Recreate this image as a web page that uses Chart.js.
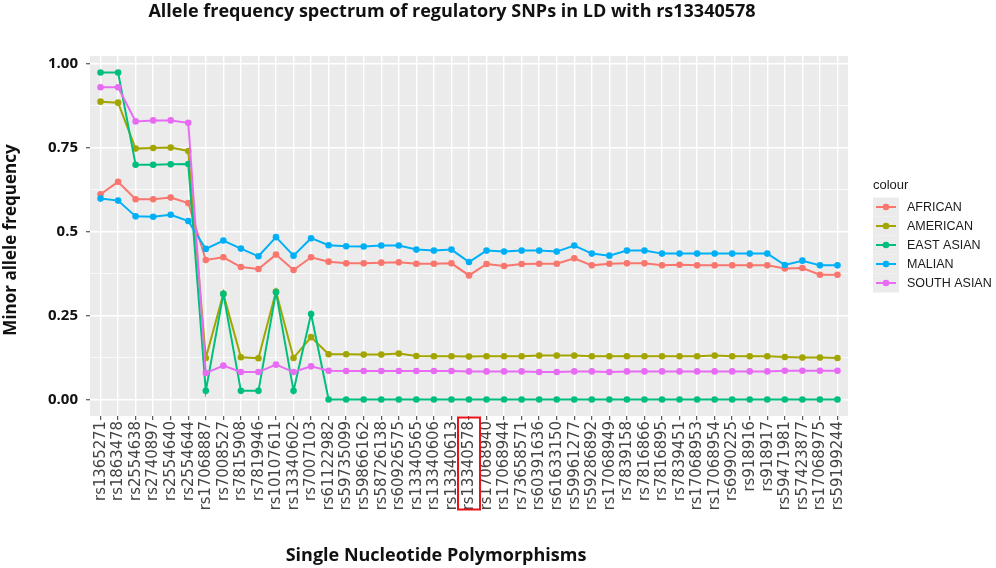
<!DOCTYPE html>
<html><head><meta charset="utf-8">
<script src="https://cdn.jsdelivr.net/npm/chart.js@4.4.1/dist/chart.umd.min.js"></script>
<style>html,body{margin:0;padding:0;background:#fff;} #wrap{width:996px;height:568px;position:relative;}</style>
</head><body><div id="wrap"><canvas id="c" width="996" height="568"></canvas></div>
<script>
// ---------- DATA ----------
const snps = ['rs1365271','rs1863478','rs2554638','rs2740897','rs2554640','rs2554644','rs17068887','rs7008527','rs7815908','rs7819946','rs10107611','rs13340602','rs7007103','rs61122982','rs59735099','rs59866162','rs58726138','rs60926575','rs13340565','rs13340606','rs13340613','rs13340578','rs17068940','rs17068944','rs73658571','rs60391636','rs61633150','rs59961277','rs59286892','rs17068949','rs7839158','rs7816866','rs7816895','rs7839451','rs17068953','rs17068954','rs6990225','rs918916','rs918917','rs59471981','rs57423877','rs17068975','rs59199244'];
const highlightSNP = 'rs13340578';

const african    = [0.612,0.649,0.597,0.597,0.602,0.586,0.416,0.424,0.395,0.389,0.432,0.386,0.424,0.411,0.406,0.406,0.408,0.409,0.405,0.405,0.406,0.370,0.404,0.398,0.404,0.405,0.405,0.421,0.400,0.405,0.406,0.406,0.400,0.402,0.400,0.400,0.400,0.400,0.400,0.391,0.392,0.372,0.372];
const american   = [0.888,0.885,0.748,0.750,0.751,0.741,0.124,0.315,0.126,0.123,0.322,0.124,0.186,0.135,0.135,0.134,0.134,0.137,0.130,0.129,0.129,0.128,0.129,0.129,0.129,0.131,0.131,0.131,0.129,0.129,0.129,0.129,0.129,0.129,0.129,0.131,0.129,0.129,0.129,0.127,0.125,0.125,0.124];
const eastAsian  = [0.975,0.975,0.700,0.700,0.701,0.702,0.026,0.315,0.026,0.026,0.320,0.026,0.255,0,0,0,0,0,0,0,0,0,0,0,0,0,0,0,0,0,0,0,0,0,0,0,0,0,0,0,0,0,0];
const malian     = [0.599,0.593,0.546,0.545,0.551,0.532,0.449,0.474,0.450,0.427,0.484,0.429,0.481,0.460,0.457,0.456,0.459,0.459,0.447,0.444,0.447,0.410,0.444,0.441,0.444,0.444,0.441,0.459,0.435,0.429,0.444,0.444,0.435,0.435,0.435,0.435,0.435,0.435,0.435,0.401,0.414,0.400,0.400];
const southAsian = [0.931,0.931,0.829,0.832,0.832,0.825,0.079,0.101,0.082,0.082,0.104,0.082,0.099,0.086,0.085,0.085,0.085,0.085,0.085,0.085,0.085,0.084,0.084,0.084,0.084,0.082,0.082,0.084,0.084,0.082,0.084,0.084,0.084,0.084,0.084,0.084,0.084,0.084,0.084,0.086,0.086,0.086,0.086];

const seriesNames  = ['AFRICAN','AMERICAN','EAST ASIAN','MALIAN','SOUTH ASIAN'];
const seriesValues = [african, american, eastAsian, malian, southAsian];
const seriesColors = ['#F8766D','#A3A500','#00BF7D','#00B0F6','#E76BF3'];

const yMajorTicks  = [0, 0.25, 0.5, 0.75, 1];
const yTickLabels  = ['0.00', '0.25', '0.5', '0.75', '1.00'];
const yMinorTicks  = [0.125, 0.375, 0.625, 0.875];

const chartTitle  = 'Allele frequency spectrum of regulatory SNPs in LD with rs13340578';
const xAxisTitle  = 'Single Nucleotide Polymorphisms';
const yAxisTitle  = 'Minor allele frequency';
const legendTitle = 'colour';

// ---------- CHART ----------
const BOLD = '"Open Sans", Lato, sans-serif';
const isMajor = v => yMajorTicks.some(m => Math.abs(m - v) < 1e-9);

const panelBg = {
  id: 'panelBg',
  beforeDraw(chart) {
    const {ctx, chartArea: a} = chart;
    ctx.save();
    ctx.fillStyle = '#EBEBEB';
    ctx.fillRect(a.left, a.top, a.right - a.left, a.bottom - a.top);
    ctx.restore();
  }
};

const decorations = {
  id: 'decorations',
  afterDraw(chart) {
    const {ctx, chartArea: a} = chart;
    const xs = chart.scales.x;
    ctx.save();
    ctx.fillStyle = '#111';
    ctx.textAlign = 'center';
    ctx.textBaseline = 'middle';
    ctx.font = 'bold 18px ' + BOLD;
    ctx.fillText(chartTitle, 452, 12);
    ctx.fillText(xAxisTitle, 436, 556);
    ctx.font = 'bold 17px ' + BOLD;
    ctx.save();
    ctx.translate(11, 240);
    ctx.rotate(-Math.PI / 2);
    ctx.fillText(yAxisTitle, 0, 0);
    ctx.restore();

    // legend
    const lx = a.right + 25, ly = 185;
    ctx.textAlign = 'left';
    ctx.fillStyle = '#1a1a1a';
    ctx.font = '13px "Liberation Sans", Arial, sans-serif';
    ctx.fillText(legendTitle, lx, ly);
    ctx.font = '12.5px "Liberation Sans", Arial, sans-serif';
    chart.data.datasets.forEach((ds, i) => {
      const yc = ly + 22 + i * 19;
      ctx.fillStyle = '#EBEBEB';
      ctx.fillRect(lx, yc - 9.5, 26, 19);
      ctx.strokeStyle = ds.borderColor;
      ctx.lineWidth = 2;
      ctx.beginPath(); ctx.moveTo(lx + 3, yc); ctx.lineTo(lx + 23, yc); ctx.stroke();
      ctx.fillStyle = ds.borderColor;
      ctx.beginPath(); ctx.arc(lx + 13, yc, 3.3, 0, Math.PI * 2); ctx.fill();
      ctx.fillStyle = '#1a1a1a';
      ctx.fillText(ds.label, lx + 34, yc + 0.5);
    });

    // highlight box around the lead SNP label
    const hx = xs.getPixelForValue(snps.indexOf(highlightSNP));
    ctx.strokeStyle = '#E8141B';
    ctx.lineWidth = 2;
    ctx.strokeRect(hx - 11, a.bottom + 1.5, 22, 92);
    ctx.restore();
  }
};

new Chart(document.getElementById('c'), {
  type: 'line',
  data: {
    datasets: seriesNames.map((name, i) => ({
      label: name,
      data: seriesValues[i].map((v, j) => ({x: j, y: v})),
      borderColor: seriesColors[i],
      backgroundColor: seriesColors[i],
      pointBackgroundColor: seriesColors[i],
      borderWidth: 2,
      pointRadius: 3.3,
      pointBorderWidth: 0,
      pointHoverRadius: 3.3,
      tension: 0,
      fill: false,
      order: seriesNames.length - i
    }))
  },
  options: {
    responsive: false,
    animation: false,
    devicePixelRatio: 1,
    events: [],
    layout: {padding: {left: 0, top: 56, right: 148, bottom: 0}},
    plugins: {legend: {display: false}, title: {display: false}, tooltip: {enabled: false}},
    scales: {
      x: {
        type: 'linear',
        min: -0.6,
        max: snps.length - 1 + 0.6,
        afterBuildTicks: s => { s.ticks = snps.map((_, i) => ({value: i})); },
        afterFit: s => { s.height = 152; },
        border: {display: false},
        grid: {color: '#FFFFFF', lineWidth: 1.4, tickColor: '#333333', tickLength: 4, tickWidth: 1},
        ticks: {
          autoSkip: false, minRotation: 90, maxRotation: 90, padding: 1,
          color: '#444444',
          font: {family: '"Liberation Sans Narrow", "DejaVu Sans Condensed", sans-serif', size: 16.5},
          callback: v => snps[v] !== undefined ? snps[v] : ''
        }
      },
      y: {
        type: 'linear',
        min: -0.049,
        max: 1.024,
        afterBuildTicks: s => { s.ticks = yMajorTicks.concat(yMinorTicks).sort((p, q) => p - q).map(v => ({value: v})); },
        afterFit: s => { s.width = 90; },
        border: {display: false},
        grid: {
          color: '#FFFFFF',
          lineWidth: c => isMajor(c.tick.value) ? 1.5 : 0.7,
          tickColor: c => isMajor(c.tick.value) ? '#333333' : 'rgba(0,0,0,0)',
          tickLength: 4, tickWidth: 1
        },
        ticks: {
          padding: 8,
          color: '#111111',
          font: {family: BOLD, size: 15, weight: 'bold'},
          callback: v => { const k = yMajorTicks.findIndex(m => Math.abs(m - v) < 1e-9); return k >= 0 ? yTickLabels[k] : ''; }
        }
      }
    }
  },
  plugins: [panelBg, decorations]
});
</script>
</body></html>
